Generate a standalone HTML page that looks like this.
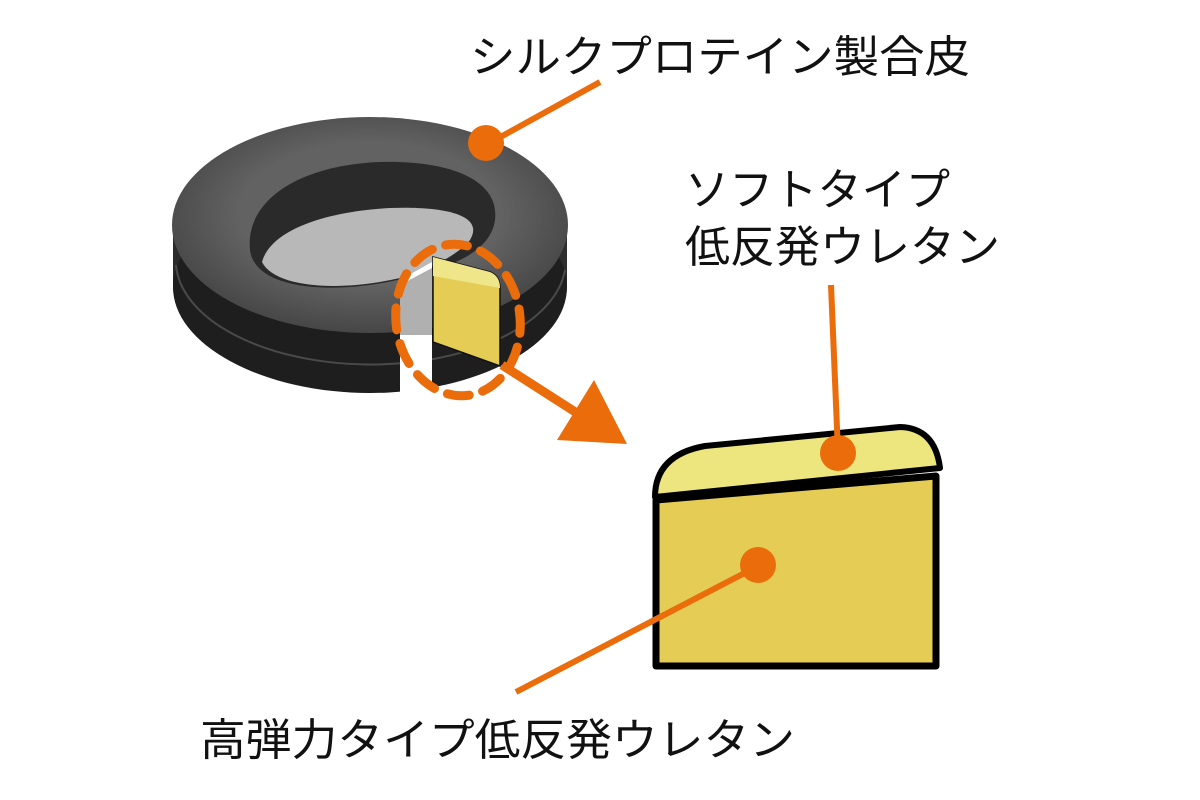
<!DOCTYPE html>
<html><head><meta charset="utf-8"><style>
html,body{margin:0;padding:0;background:#fff;}
svg{display:block;}
text{font-family:"Liberation Sans","Noto Sans CJK JP",sans-serif;fill:#111;font-size:44px;}
</style></head><body>
<svg width="1200" height="800" viewBox="0 0 1200 800" xmlns="http://www.w3.org/2000/svg">
<defs>
<linearGradient id="side" x1="0" y1="0" x2="1" y2="0">
<stop offset="0" stop-color="#2a2a2a"/><stop offset="0.5" stop-color="#1a1a1a"/><stop offset="1" stop-color="#2e2e2e"/>
</linearGradient>
<radialGradient id="top" cx="0.5" cy="0.45" r="0.6">
<stop offset="0.55" stop-color="#626262"/><stop offset="1" stop-color="#404040"/>
</radialGradient>
</defs>
<!-- ring side -->
<path d="M173,235 L173,285 A197,108 0 0 0 567,285 L567,235 Z" fill="url(#side)"/>
<ellipse cx="370" cy="287" rx="197" ry="105" fill="#1e1e1e"/>
<path d="M176,265 A195,104 0 0 0 565,270" fill="none" stroke="#4a4a4a" stroke-width="2"/>
<!-- top face -->
<ellipse cx="370" cy="225" rx="198" ry="108" fill="url(#top)"/>
<!-- hole -->
<path d="M250,250 C245,200 300,165 380,162 C450,160 500,180 495,220 C490,255 445,268 405,278 C340,295 255,292 250,250 Z" fill="#2a2a2a"/>
<path d="M262,262 C270,232 320,212 390,208 C445,206 485,215 470,240 C455,258 425,270 400,278 C340,292 275,288 262,262 Z" fill="#b8b8b8"/>
<!-- cutout -->
<path d="M400,280 L432,262 L432,400 L400,400 Z" fill="#fff"/>
<path d="M400,285 L432,268 L432,335 L400,335 Z" fill="#b0b0b0"/>
<!-- yellow block -->
<path d="M433,257 L490,272 Q500,276 500,288 L500,366 L433,342 Z" fill="#e5cc55" stroke="#111" stroke-width="1.5"/>
<path d="M433,257 L490,272 Q500,276 500,288 L433,276 Z" fill="#efe68a"/>
<!-- dashed circle -->
<ellipse cx="458" cy="320" rx="62" ry="76" fill="none" stroke="#ea6c0a" stroke-width="9" stroke-dasharray="22,14" stroke-linecap="round" transform="rotate(-8 458 320)"/>
<!-- arrow -->
<line x1="502" y1="365" x2="580" y2="415" stroke="#ea6c0a" stroke-width="9"/>
<polygon points="557,440 627,444 594,380" fill="#ea6c0a"/>
<!-- cross-section -->
<path d="M656,500 L936,476 L936,666 L656,666 Z" fill="#e5cc55" stroke="#000" stroke-width="7" stroke-linejoin="round"/>
<path d="M655,497 Q655,455 705,446 L900,427 Q935,428 940,468 L655,497 Z" fill="#ede57e" stroke="#000" stroke-width="6" stroke-linejoin="round"/>
<!-- callouts -->
<line x1="486" y1="145" x2="600" y2="82" stroke="#ea6c0a" stroke-width="6"/>
<circle cx="486" cy="143" r="18" fill="#ea6c0a"/>
<line x1="831" y1="285" x2="838" y2="452" stroke="#ea6c0a" stroke-width="6"/>
<circle cx="838" cy="453" r="18" fill="#ea6c0a"/>
<line x1="760" y1="565" x2="516" y2="692" stroke="#ea6c0a" stroke-width="6"/>
<circle cx="758" cy="565" r="18" fill="#ea6c0a"/>
<!-- labels -->
<text x="470" y="72" textLength="500" lengthAdjust="spacingAndGlyphs">シルクプロテイン製合皮</text>
<text x="685" y="205" textLength="265" lengthAdjust="spacingAndGlyphs">ソフトタイプ</text>
<text x="685" y="262" textLength="315" lengthAdjust="spacingAndGlyphs">低反発ウレタン</text>
<text x="200" y="755" textLength="595" lengthAdjust="spacingAndGlyphs">高弾力タイプ低反発ウレタン</text>
</svg>
</body></html>
